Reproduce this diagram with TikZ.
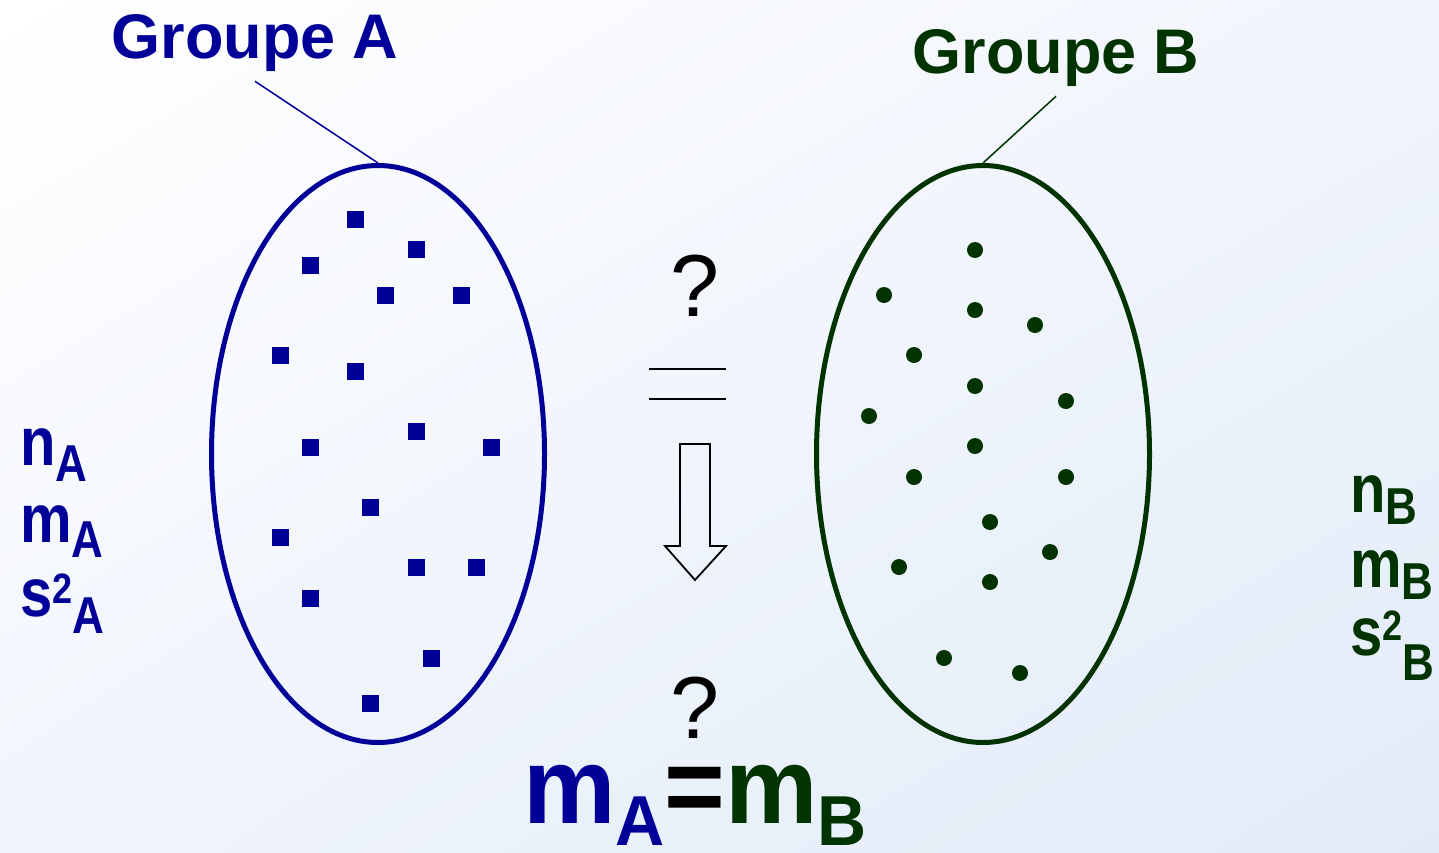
\documentclass[tikz,border=0pt]{standalone}
\usepackage{fontspec}
\setmainfont{Liberation Sans}
\usepackage{tikz}
\usetikzlibrary{shapes.geometric, positioning, shadings}
\definecolor{grpA}{HTML}{000099}
\definecolor{grpB}{HTML}{003300}
\definecolor{bgmid}{HTML}{F1F5FC}
\definecolor{bgend}{HTML}{E1EBF8}
\newcommand{\subfont}{\fontsize{44}{44}\selectfont}
\newcommand{\supfont}{\fontsize{36}{36}\selectfont}

\begin{document}
\begin{tikzpicture}[x=1pt, y=-1pt,
    grptitle/.style={font=\fontsize{63}{70}\selectfont\bfseries, text=#1, anchor=base, inner sep=10pt},
    grpset/.style={draw=#1, ellipse, line width=5pt, minimum width=333pt, minimum height=577pt, inner sep=0pt},
    lead/.style={draw=#1, line width=1.5pt},
    sqdot/.style={fill=grpA, rectangle, minimum size=17pt, inner sep=0pt},
    rddot/.style={fill=grpB, circle, minimum size=16pt, inner sep=0pt},
    stat/.style={font=\fontsize{58}{60}\selectfont\bfseries, text=#1, anchor=base west, inner sep=0pt},
    query/.style={font=\fontsize{88}{90}\selectfont, anchor=base, inner sep=0pt},
]
    \shade[upper left=white, upper right=bgmid, lower left=bgmid, lower right=bgend] (0,0) rectangle (1439,852);

    \node[grptitle=grpA] (ttlA) at (255,58) {Groupe A};
    \node[grptitle=grpB] (ttlB) at (1056,73) {Groupe B};

    \node[grpset=grpA] (ellA) at (378,454) {};
    \node[grpset=grpB] (ellB) at (983,454) {};

    \draw[lead=grpA] (ttlA.south) -- (ellA.north);
    \draw[lead=grpB] (ttlB.south) -- (ellB.north);

    \foreach \x/\y [count=\i] in {355/219, 310/265, 416/249, 385/295, 461/295, 280/355, 355/371, 310/447, 416/431, 491/447, 370/507, 280/537, 416/567, 476/567, 310/598, 431/658, 370/703}
        \node[sqdot] (a\i) at (\x,\y) {};
    \foreach \x/\y [count=\i] in {975/250, 884/295, 975/310, 1035/325, 914/355, 975/386, 1066/401, 869/416, 975/446, 914/477, 1066/477, 990/522, 1050/552, 899/567, 990/582, 944/658, 1020/673}
        \node[rddot] (b\i) at (\x,\y) {};

    \node[stat=grpA] (nA) at (20,465) {\scalebox{1}[1.18]{n\raisebox{-14pt}{\subfont A}}};
    \node[stat=grpA] (mA) at (20,542) {\scalebox{1}[1.18]{m\raisebox{-13pt}{\subfont A}}};
    \node[stat=grpA] (sA) at (20,616) {\scalebox{1}[1.18]{s\raisebox{11pt}{\supfont 2}\raisebox{-15pt}{\subfont A}}};

    \node[stat=grpB] (nB) at (1350,512) {\scalebox{1}[1.18]{n\raisebox{-11pt}{\subfont B}}};
    \node[stat=grpB] (mB) at (1350,587) {\scalebox{1}[1.18]{m\raisebox{-11pt}{\subfont B}}};
    \node[stat=grpB] (sB) at (1350,655) {\scalebox{1}[1.18]{s\raisebox{12pt}{\supfont 2}\raisebox{-22pt}{\subfont B}}};

    \node[query] (q1) at (695,316) {?};
    \node[query] (q2) at (695,738) {?};

    \draw[line width=1.5pt] (649,369) -- (726,369);
    \draw[line width=1.5pt] (649,399) -- (726,399);
    \draw[line width=1.8pt] (680,444) -- (710,444) -- (710,546) -- (726,546) -- (695,580) -- (665,546) -- (680,546) -- cycle;

    \node[font=\fontsize{104}{110}\selectfont\bfseries, anchor=base, inner sep=0pt] (eq) at (695,823)
        {\scalebox{1}[1.04]{\color{grpA}m\raisebox{-22pt}{\fontsize{68}{68}\selectfont A}\color{black}=\color{grpB}m\raisebox{-22pt}{\fontsize{68}{68}\selectfont B}}};
\end{tikzpicture}
\end{document}
